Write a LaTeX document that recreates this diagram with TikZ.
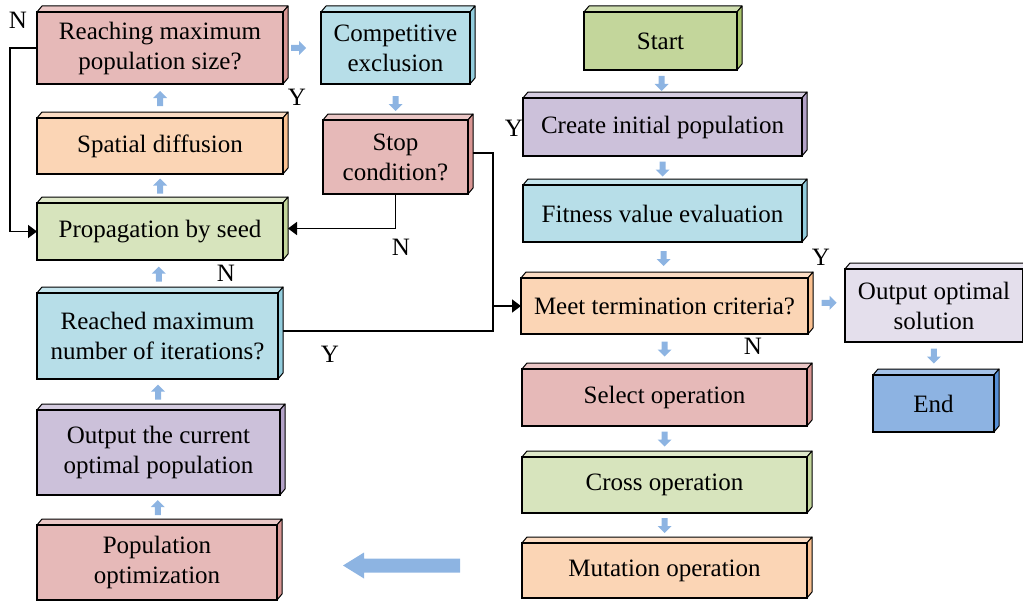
\documentclass[tikz,border=0pt]{standalone}
\usepackage{fontspec}
\setmainfont{Liberation Serif}
\usetikzlibrary{calc,arrows.meta}
\definecolor{pinkF}{HTML}{E6B9B8}\definecolor{pinkS}{HTML}{D99694}
\definecolor{peachF}{HTML}{FBD5B5}\definecolor{peachS}{HTML}{FAC090}
\definecolor{greenF}{HTML}{D7E4BD}\definecolor{greenS}{HTML}{C3D69B}
\definecolor{blueF}{HTML}{B7DEE8}\definecolor{blueS}{HTML}{93CDDD}
\definecolor{lavF}{HTML}{CCC1DA}\definecolor{lavS}{HTML}{B3A2C7}
\definecolor{startF}{HTML}{C3D69B}\definecolor{startS}{HTML}{A9C46C}
\definecolor{outF}{HTML}{E4DFEC}\definecolor{outS}{HTML}{CCC1DA}
\definecolor{endF}{HTML}{8DB3E2}\definecolor{endS}{HTML}{558ED5}
\definecolor{arrowblue}{HTML}{8DB4E2}
\tikzset{
  box/.style={draw=black, line width=1.6pt, rectangle, inner sep=0pt, outer sep=0pt, align=center, font=\fontsize{25}{30}\selectfont},
  facedraw/.style={draw=black, line width=1pt, line join=round},
  conn/.style={draw=black, line width=1.8pt, -{Triangle[length=9pt,width=13pt]}},
  connplain/.style={draw=black, line width=1.8pt},
  lab/.style={inner sep=0pt, font=\fontsize{25}{30}\selectfont},
  blk/.pic={\fill[arrowblue] (-8,-3) -- (0,-3) -- (0,-7) -- (7,0) -- (0,7) -- (0,3) -- (-8,3) -- cycle;}
}
% name, x1, y1, x2, y2, front, side, text
\newcommand{\cub}[8]{%
  \filldraw[facedraw, fill=#6!80!white] (#2,#3) -- (#2+5,#3-6) -- (#4+5,#3-6) -- (#4,#3) -- cycle;
  \filldraw[facedraw, fill=#7] (#4,#3) -- (#4+5,#3-6) -- (#4+5,#5-6) -- (#4,#5) -- cycle;
  \node[box, fill=#6, minimum width={(#4-#2)*1pt}, minimum height={(#5-#3)*1pt}] (#1) at ({(#2+#4)/2},{(#3+#5)/2}) {#8};
}
\begin{document}
\begin{tikzpicture}[x=1pt,y=-1pt]
\useasboundingbox (0,0) rectangle (1023,602);
\clip (0,0) rectangle (1023,602);
% left column
\cub{reach}{37}{12}{283}{84}{pinkF}{pinkS}{Reaching maximum\\population size?}
\cub{spat}{37}{118}{283}{174}{peachF}{peachS}{Spatial diffusion}
\cub{prop}{37}{203}{283}{260}{greenF}{greenS}{Propagation by seed}
\cub{iter}{37}{293}{278}{379}{blueF}{blueS}{Reached maximum\\number of iterations?}
\cub{curopt}{37}{410}{280}{495}{lavF}{lavS}{Output the current\\optimal population}
\cub{popopt}{37}{525}{277}{600}{pinkF}{pinkS}{Population\\optimization}
% middle column
\cub{comp}{321}{12}{470}{84}{blueF}{blueS}{Competitive\\exclusion}
\cub{stop}{323}{120}{468}{194}{pinkF}{pinkS}{Stop\\condition?}
% right column
\cub{start}{584}{12}{737}{70}{startF}{startS}{Start}
\cub{create}{523}{98}{802}{156}{lavF}{lavS}{Create initial population}
\cub{fit}{523}{185}{802}{242}{blueF}{blueS}{Fitness value evaluation}
\cub{meet}{521}{278}{808}{334}{peachF}{peachS}{Meet termination criteria?}
\cub{sel}{522}{369}{807}{426}{pinkF}{pinkS}{Select operation}
\cub{cross}{522}{457}{807}{513}{greenF}{greenS}{Cross operation}
\cub{mut}{522}{543}{807}{598}{peachF}{peachS}{Mutation operation}
\cub{outsol}{845}{269}{1023}{342}{outF}{outS}{Output optimal\\solution}
\cub{fin}{873}{375}{994}{432}{endF}{endS}{End}
% small blue arrows (rotate=90 points up here, -90 points down)
\path ($(spat.north)!.5!(reach.south)+(0,-3)$) pic[rotate=90] {blk};
\path ($(prop.north)!.5!(spat.south)+(0,-3)$) pic[rotate=90] {blk};
\path ($(iter.north)!.5!(prop.south)+(0,-3)$) pic[rotate=90] {blk};
\path ($(curopt.north)!.5!(iter.south)+(0,-3)$) pic[rotate=90] {blk};
\path ($(popopt.north)!.5!(curopt.south)+(0,-3)$) pic[rotate=90] {blk};
\path ($(reach.east)!.5!(comp.west)+(-3,0)$) pic {blk};
\path ($(comp.south)!.5!(stop.north)+(0,2)$) pic[rotate=-90] {blk};
\path ($(start.south)!.5!(create.north)+(0,0)$) pic[rotate=-90] {blk};
\path ($(create.south)!.5!(fit.north)+(0,-1)$) pic[rotate=-90] {blk};
\path ($(fit.south)!.5!(meet.north)+(0,-1)$) pic[rotate=-90] {blk};
\path ($(meet.south)!.5!(sel.north)+(0,-2)$) pic[rotate=-90] {blk};
\path ($(sel.south)!.5!(cross.north)+(0,-2)$) pic[rotate=-90] {blk};
\path ($(cross.south)!.5!(mut.north)+(0,-2)$) pic[rotate=-90] {blk};
\path ($(meet.east)!.5!(outsol.west)+(3,-3)$) pic {blk};
\path ($(outsol.south)!.5!(fin.north)+(0,-2)$) pic[rotate=-90] {blk};
% big arrow from mutation side towards population optimization
\coordinate (bigS) at ($(mut.west)+(-62,-5)$);
\coordinate (bigE) at ($(bigS)+(-117,0)$);
\fill[arrowblue] ($(bigS)+(0,-7)$) -- ($(bigE)+(21,-7)$) -- ($(bigE)+(21,-13)$) -- (bigE) -- ($(bigE)+(21,13)$) -- ($(bigE)+(21,7)$) -- ($(bigS)+(0,7)$) -- cycle;
% black connectors
\draw[conn] (reach.west) -- ++(-27,0) |- (prop.west);
\coordinate (propR) at ($(prop.east)+(5,-3)$);
\draw[conn] (stop.south) |- (propR);
\draw[conn] ($(stop.east)+(5,-4)$) -- ++(20,0) coordinate (jt) |- (meet.west);
\draw[connplain] ($(iter.east)+(5,-5)$) -| (jt);
% labels
\node[lab] (lN1) at (18,20) {N};
\node[lab] (lY1) at (297,97) {Y};
\node[lab] (lN2) at (401,247) {N};
\node[lab] (lN3) at (226,273) {N};
\node[lab] (lY2) at (330,354) {Y};
\node[lab] (lY3) at (514,128) {Y};
\node[lab] (lY4) at (821,257) {Y};
\node[lab] (lN4) at (753,346) {N};
\end{tikzpicture}
\end{document}
